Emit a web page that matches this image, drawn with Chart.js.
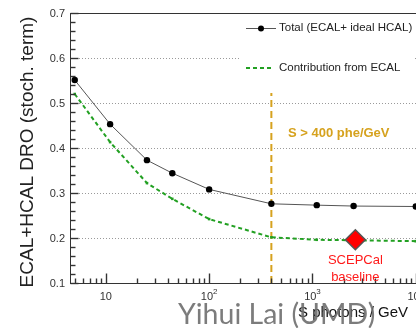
<!DOCTYPE html>
<html>
<head>
<meta charset="utf-8">
<script src="https://cdn.jsdelivr.net/npm/chart.js@4.4.1/dist/chart.umd.min.js"></script>
<style>
  html, body { margin: 0; padding: 0; background: #fff; overflow: hidden; }
  #wrap { width: 416px; height: 328px; overflow: hidden; position: relative; }
  canvas { display: block; }
</style>
</head>
<body>
<div id="wrap"><canvas id="resChart" width="460" height="328"></canvas></div>
<script>
// 光子产额 (S, photons/GeV) 与随机项
const photons = [5, 11, 25, 44, 100, 400, 1100, 2500, 10000];
const totalRes = [0.551, 0.453, 0.373, 0.344, 0.308, 0.276, 0.273, 0.271, 0.270];
const ecalRes = [0.520, 0.413, 0.322, 0.287, 0.242, 0.2015, 0.196, 0.195, 0.193];

// 阈值线与基准点
const thresholdS = 400;
const thresholdRange = [0.1, 0.522];
const baselineS = 2600;
const baselineRes = 0.196;

// 坐标轴刻度
const yTicks = [0.1, 0.2, 0.3, 0.4, 0.5, 0.6, 0.7];
const yTickLabels = ['0.1', '0.2', '0.3', '0.4', '0.5', '0.6', '0.7'];
const yGrid = [0.2, 0.3, 0.4, 0.5, 0.6];
const xTicks = [10, 100, 1000, 10000];
const xTickExp = ['', '2', '3', '4'];

const FONT = '"Liberation Sans", Arial, sans-serif';
const GOLD = '#d6a21e';
const GREEN = '#22a022';

const toPts = (xs, ys) => xs.map((v, i) => ({ x: v, y: ys[i] }));

// 画一小段线
function seg(ctx, x0, y0, x1, y1) {
    ctx.beginPath();
    ctx.moveTo(x0, y0);
    ctx.lineTo(x1, y1);
    ctx.stroke();
}

// 坐标框、刻度、图例和文字
const framePlugin = {
    id: 'frame',
    beforeDatasetsDraw(chart) {
        const { ctx, chartArea: a, scales: { y } } = chart;
        ctx.save();
        ctx.strokeStyle = '#9a9a9a';
        ctx.lineWidth = 1;
        ctx.setLineDash([1, 2]);
        yGrid.forEach(v => {
            const py = Math.round(y.getPixelForValue(v)) + 0.5;
            seg(ctx, a.left + 9, py, a.right, py);
        });
        ctx.restore();
    },
    afterDatasetsDraw(chart) {
        const { ctx, chartArea: a, scales: { x, y } } = chart;
        ctx.save();
        ctx.setLineDash([]);

        // 图例
        ctx.fillStyle = '#fff';
        ctx.fillRect(240, 15, 174, 68);
        ctx.strokeStyle = '#555';
        ctx.lineWidth = 1;
        seg(ctx, 246, 28.5, 276, 28.5);
        ctx.fillStyle = '#000';
        ctx.beginPath();
        ctx.arc(261, 28.5, 3, 0, Math.PI * 2);
        ctx.fill();
        ctx.strokeStyle = GREEN;
        ctx.lineWidth = 2;
        ctx.setLineDash([4, 3]);
        seg(ctx, 246, 68, 274, 68);
        ctx.setLineDash([]);
        ctx.fillStyle = '#222';
        ctx.font = '11.5px ' + FONT;
        ctx.textAlign = 'left';
        ctx.textBaseline = 'middle';
        ctx.fillText('Total (ECAL+ ideal HCAL)', 279, 28);
        ctx.fillText('Contribution from ECAL', 279, 68);

        // 坐标框
        ctx.strokeStyle = '#333';
        ctx.lineWidth = 1;
        const L = Math.round(a.left) + 0.5;
        const B = Math.round(a.bottom) + 0.5;
        ctx.strokeRect(L, Math.round(a.top) + 0.5, Math.round(a.width), Math.round(a.height));

        // y 轴刻度 (主刻度 0.1，次刻度 0.02)
        ctx.lineWidth = 1.4;
        for (let i = 5; i <= 35; i++) {
            const py = Math.round(y.getPixelForValue(i / 50)) + 0.5;
            seg(ctx, L, py, L + (i % 5 === 0 ? 8 : 5), py);
        }
        // x 轴对数刻度
        for (let d = 0; d <= 4; d++) {
            for (let m = 1; m <= 9; m++) {
                const v = m * Math.pow(10, d);
                if (v < 4.6 || v > 15000) continue;
                const px = Math.round(x.getPixelForValue(v)) + 0.5;
                seg(ctx, px, B, px, B - (m === 1 ? 10 : 5));
            }
        }

        // 刻度标签
        ctx.fillStyle = '#333';
        ctx.font = '11px ' + FONT;
        ctx.textAlign = 'right';
        yTicks.forEach((v, i) => {
            ctx.fillText(yTickLabels[i], a.left - 5, y.getPixelForValue(v) + 1);
        });
        xTicks.forEach((v, i) => {
            const px = x.getPixelForValue(v);
            const py = a.bottom + 14;
            ctx.font = '11px ' + FONT;
            const wb = ctx.measureText('10').width;
            ctx.font = '8px ' + FONT;
            const we = xTickExp[i] ? ctx.measureText(xTickExp[i]).width : 0;
            const x0 = px - (wb + we) / 2;
            ctx.textAlign = 'left';
            ctx.font = '11px ' + FONT;
            ctx.fillText('10', x0, py);
            if (xTickExp[i]) {
                ctx.font = '8px ' + FONT;
                ctx.fillText(xTickExp[i], x0 + wb, py - 5);
            }
        });

        // y 轴标题
        ctx.save();
        ctx.translate(28, 152);
        ctx.rotate(-Math.PI / 2);
        ctx.textAlign = 'center';
        ctx.fillStyle = '#222';
        ctx.font = '19px ' + FONT;
        ctx.fillText('ECAL+HCAL DRO (stoch. term)', 0, 0);
        ctx.restore();

        // 阈值说明
        ctx.fillStyle = GOLD;
        ctx.font = 'bold 13px ' + FONT;
        ctx.textAlign = 'left';
        ctx.fillText('S > 400 phe/GeV', 288, 133);

        // 基准点说明
        ctx.fillStyle = '#ff1a1a';
        ctx.font = '13px ' + FONT;
        ctx.textAlign = 'center';
        const bx = x.getPixelForValue(baselineS);
        ctx.fillText('SCEPCal', bx, 260);
        ctx.fillText('baseline', bx, 277);

        // x 轴标题
        ctx.fillStyle = '#111';
        ctx.font = '15px ' + FONT;
        ctx.textAlign = 'left';
        ctx.fillText('S photons / GeV', 298, 313);

        // 署名
        ctx.fillStyle = 'rgba(110,110,110,0.9)';
        ctx.font = '28.5px Lato, "Open Sans", sans-serif';
        ctx.textAlign = 'left';
        ctx.textBaseline = 'alphabetic';
        ctx.fillText('Yihui Lai (UMD)', 178, 324);

        ctx.restore();
    }
};

function initChart() {
    const el = document.getElementById('resChart');
    if (!el || typeof Chart === 'undefined') return;

    new Chart(el.getContext('2d'), {
        type: 'scatter',
        data: {
            datasets: [
                {
                    label: 'Contribution from ECAL',
                    data: toPts(photons, ecalRes),
                    showLine: true,
                    borderColor: GREEN,
                    borderWidth: 2,
                    borderDash: [4, 3],
                    pointStyle: 'rect',
                    pointRadius: 1.8,
                    backgroundColor: GREEN,
                    pointBorderWidth: 0,
                    order: 3
                },
                {
                    label: 'Total (ECAL+ ideal HCAL)',
                    data: toPts(photons, totalRes),
                    showLine: true,
                    borderColor: '#555',
                    borderWidth: 1,
                    pointRadius: 3.2,
                    pointBackgroundColor: '#000',
                    pointBorderWidth: 0,
                    order: 2
                },
                {
                    label: 'threshold',
                    data: [{ x: thresholdS, y: thresholdRange[0] }, { x: thresholdS, y: thresholdRange[1] }],
                    showLine: true,
                    borderColor: GOLD,
                    borderWidth: 2,
                    borderDash: [7, 4],
                    pointRadius: 0,
                    order: 4
                },
                {
                    label: 'SCEPCal baseline',
                    data: [{ x: baselineS, y: baselineRes }],
                    pointStyle: 'rectRot',
                    pointRadius: 10,
                    backgroundColor: '#ff0000',
                    borderColor: '#555',
                    borderWidth: 1.5,
                    order: 1
                }
            ]
        },
        options: {
            responsive: false,
            animation: false,
            layout: { padding: { left: 70, top: 13, right: 26, bottom: 45 } },
            scales: {
                x: { type: 'logarithmic', min: 4.5, max: 15000, display: false },
                y: { type: 'linear', min: 0.1, max: 0.7, display: false }
            },
            plugins: {
                legend: { display: false },
                tooltip: { enabled: false }
            }
        },
        plugins: [framePlugin]
    });
}

if (document.readyState === 'loading') {
    document.addEventListener('DOMContentLoaded', initChart);
} else {
    initChart();
}
</script>
</body>
</html>
